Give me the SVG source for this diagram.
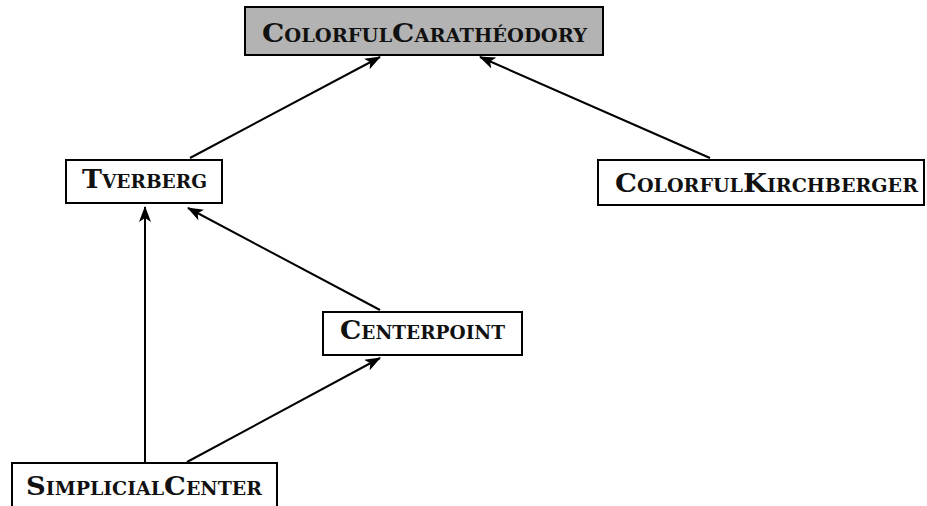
<svg xmlns="http://www.w3.org/2000/svg" width="927" height="506" viewBox="0 0 927 506">
<style>
.box{fill:#fff;stroke:#000;stroke-width:2}
.gray{fill:#b3b3b3}
.lbl{font-family:"DejaVu Serif","Liberation Serif",serif;font-weight:bold;font-size:26px;font-variant:small-caps;fill:#111}
.edge{stroke:#000;stroke-width:2;fill:none;marker-end:url(#arr)}
</style>
<defs>
<marker id="arr" markerUnits="userSpaceOnUse" markerWidth="16" markerHeight="12" viewBox="0 0 16 12" refX="15" refY="6" orient="auto">
<path d="M0,0 L16,6 L0,12 L4,6 Z" fill="#000"/>
</marker>
</defs>
<g id="edges">
<line class="edge" x1="190" y1="158" x2="380" y2="57"/>
<line class="edge" x1="710" y1="158" x2="480" y2="57"/>
<line class="edge" x1="380" y1="310" x2="188" y2="208"/>
<line class="edge" x1="145" y1="462" x2="145" y2="207"/>
<line class="edge" x1="187" y1="462" x2="380" y2="358"/>
</g>
<g id="n-caratheodory">
<rect class="box gray" x="245" y="7" width="358" height="48"/>
<text class="lbl" x="262" y="42" textLength="325" lengthAdjust="spacingAndGlyphs">ColorfulCarathéodory</text>
</g>
<g id="n-tverberg">
<rect class="box" x="66" y="160" width="156" height="43"/>
<text class="lbl" x="82" y="188" textLength="125" lengthAdjust="spacingAndGlyphs">Tverberg</text>
</g>
<g id="n-kirchberger">
<rect class="box" x="598" y="160" width="326" height="45"/>
<text class="lbl" x="615" y="192" textLength="303" lengthAdjust="spacingAndGlyphs">ColorfulKirchberger</text>
</g>
<g id="n-centerpoint">
<rect class="box" x="323" y="312" width="199" height="43"/>
<text class="lbl" x="340" y="339" textLength="165" lengthAdjust="spacingAndGlyphs">Centerpoint</text>
</g>
<g id="n-simplicial">
<rect class="box" x="12" y="463" width="265" height="50"/>
<text class="lbl" x="26" y="495" textLength="236" lengthAdjust="spacingAndGlyphs">SimplicialCenter</text>
</g>
</svg>
